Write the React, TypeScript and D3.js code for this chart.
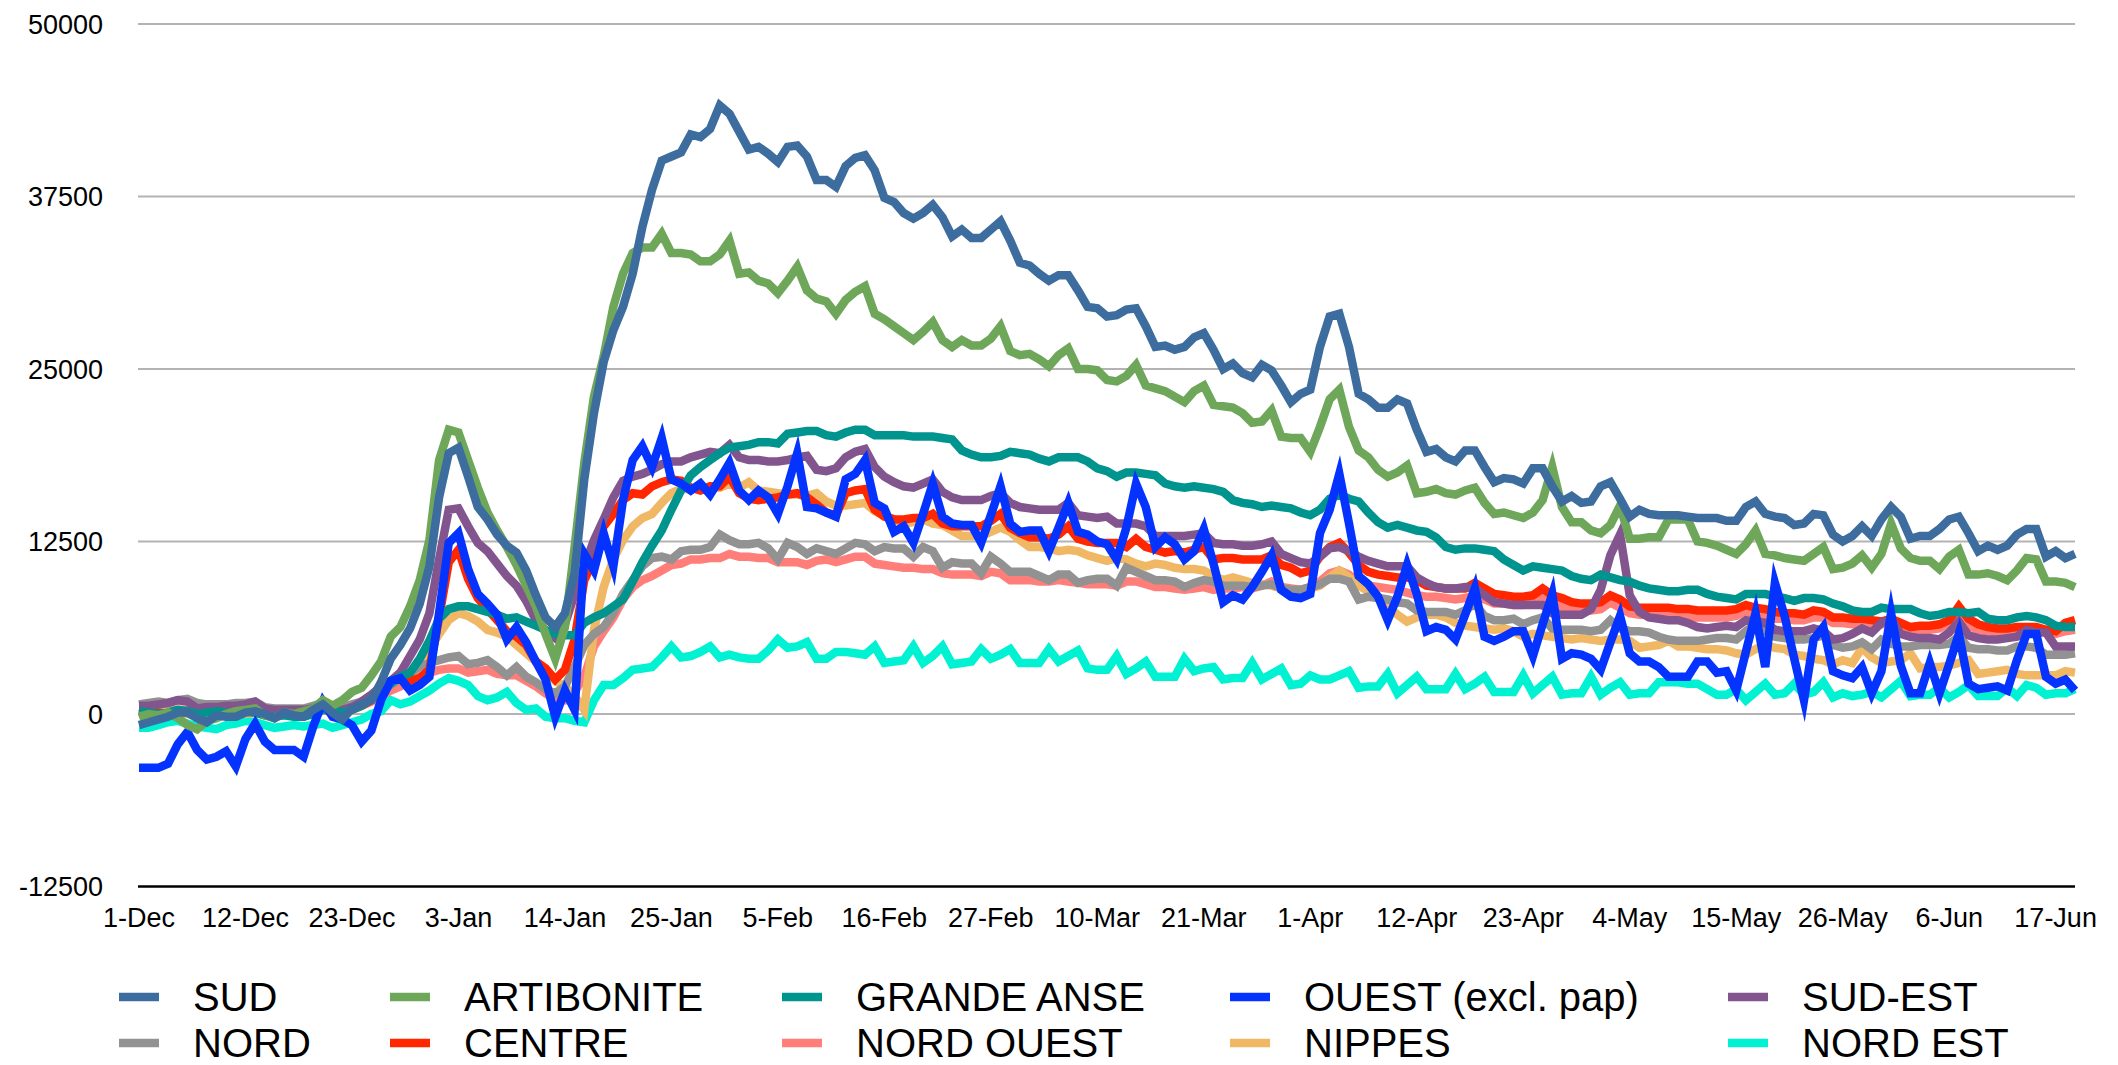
import React, { useEffect } from "react";
import * as d3 from "d3";

// values below are in thousands of cases, one per day from 1-Dec to 19-Jun
const UNIT = 1000;
const START_LABEL_STEP = 11;
const X_LABELS = ["1-Dec","12-Dec","23-Dec","3-Jan","14-Jan","25-Jan","5-Feb","16-Feb","27-Feb","10-Mar","21-Mar","1-Apr","12-Apr","23-Apr","4-May","15-May","26-May","6-Jun","17-Jun"];
const Y_TICKS = [-12500, 0, 12500, 25000, 37500, 50000];
const Y_TICK_LABELS = ["-12500", "0", "12500", "25000", "37500", "50000"];

const SUD = [
-0.8,-0.6,-0.4,-0.2,0.1,0.1,-0.3,-0.6,-0.1,-0.2,
-0.2,0.1,0.2,0.0,-0.3,0.1,-0.1,-0.2,0.3,0.7,
0.1,-0.4,0.4,0.7,1.0,2.3,4.0,5.0,6.2,8.0,
10.7,15.7,18.9,19.3,17.2,15.0,14.1,13.0,12.2,11.7,
10.4,8.6,7.0,6.3,7.3,10.2,17.0,21.8,25.5,27.8,
29.5,31.9,35.3,38.0,40.1,40.4,40.7,42.0,41.8,42.4,
44.1,43.5,42.2,40.9,41.1,40.6,40.0,41.1,41.2,40.4,
38.7,38.7,38.2,39.7,40.3,40.5,39.4,37.4,37.1,36.3,
35.9,36.3,36.9,36.0,34.6,35.1,34.5,34.5,35.1,35.7,
34.3,32.7,32.5,31.9,31.4,31.8,31.8,30.7,29.5,29.4,
28.8,28.9,29.3,29.4,28.1,26.6,26.7,26.4,26.6,27.3,
27.6,26.4,25.0,25.4,24.7,24.4,25.3,24.9,23.8,22.6,
23.2,23.5,26.6,28.8,29.0,26.6,23.2,22.8,22.2,22.2,
22.8,22.5,20.6,19.0,19.2,18.6,18.3,19.1,19.1,17.9,
16.8,17.1,17.0,16.7,17.8,17.8,16.5,15.4,15.8,15.3,
15.4,16.5,16.8,15.6,14.3,14.8,14.5,14.4,14.4,14.4,
14.3,14.2,14.2,14.2,14.0,14.0,15.0,15.4,14.5,14.3,
14.2,13.7,13.8,14.5,14.4,13.0,12.5,12.9,13.6,12.9,
14.1,15.0,14.3,12.7,12.9,12.9,13.4,14.1,14.3,13.1,
11.8,12.2,11.9,12.2,13.0,13.4,13.4,11.4,11.8,11.3,
11.6];

const ARTIBONITE = [
-0.2,0.0,-0.1,0.1,-0.3,-0.8,-1.1,-0.5,-0.3,0.0,
0.2,0.3,0.4,-0.1,-0.3,0.1,0.0,0.2,0.4,1.0,
0.6,1.0,1.6,1.9,2.8,3.8,5.6,6.3,7.8,9.7,
12.6,18.4,20.6,20.4,18.4,16.4,14.6,13.3,12.1,10.8,
9.3,7.8,5.8,4.0,6.3,12.1,18.2,23.0,25.9,29.5,
31.9,33.4,33.8,33.8,34.8,33.4,33.4,33.3,32.8,32.8,
33.3,34.3,31.9,32.0,31.4,31.2,30.5,31.4,32.4,30.7,
30.1,29.9,29.0,30.0,30.6,31.0,29.0,28.6,28.1,27.6,
27.1,27.7,28.4,27.1,26.6,27.1,26.7,26.7,27.2,28.1,
26.3,26.0,26.1,25.7,25.2,26.0,26.5,25.0,25.0,24.9,
24.2,24.1,24.5,25.3,23.8,23.6,23.4,23.0,22.6,23.4,
23.8,22.4,22.3,22.2,21.8,21.1,21.2,22.0,20.1,20.0,
20.0,19.0,20.8,22.8,23.5,20.8,19.1,18.6,17.7,17.2,
17.5,18.0,16.0,16.1,16.3,16.0,15.9,16.2,16.4,15.3,
14.5,14.6,14.4,14.2,14.6,15.5,17.9,15.0,13.9,13.9,
13.3,13.1,13.7,15.1,12.7,12.7,12.8,12.8,14.1,14.1,
14.1,12.5,12.4,12.2,11.9,11.6,12.3,13.3,11.6,11.5,
11.3,11.2,11.1,11.6,12.1,10.5,10.6,10.9,11.5,10.6,
11.6,13.8,12.0,11.3,11.1,11.1,10.5,11.4,11.9,10.1,
10.1,10.2,10.0,9.7,10.4,11.3,11.2,9.6,9.6,9.5,
9.2];

const GRANDE_ANSE = [
0.2,0.1,0.0,0.1,0.3,0.2,0.0,0.1,0.2,0.1,
0.0,0.2,0.1,-0.1,-0.2,-0.1,-0.2,-0.2,0.0,0.3,
0.2,0.1,0.3,0.6,1.1,1.6,2.2,2.7,3.0,4.0,
5.3,6.9,7.6,7.8,7.8,7.6,7.4,7.2,6.9,7.0,
6.7,6.4,6.1,5.8,5.7,5.7,6.6,7.0,7.3,7.8,
8.3,9.6,11.0,12.2,13.3,14.8,16.2,17.3,17.9,18.4,
18.9,19.3,19.4,19.5,19.7,19.7,19.6,20.3,20.4,20.5,
20.5,20.2,20.1,20.4,20.6,20.6,20.2,20.2,20.2,20.2,
20.1,20.1,20.1,20.0,19.9,19.1,18.8,18.6,18.6,18.7,
19.0,18.9,18.8,18.5,18.3,18.6,18.6,18.6,18.3,17.8,
17.6,17.2,17.5,17.5,17.4,17.3,16.7,16.5,16.4,16.5,
16.4,16.3,16.1,15.5,15.3,15.2,15.0,15.1,15.0,14.9,
14.6,14.4,14.8,15.6,15.9,15.6,15.4,14.6,13.9,13.5,
13.7,13.5,13.3,13.2,12.8,12.1,11.9,12.0,12.0,11.9,
11.8,11.2,10.8,10.4,10.7,10.6,10.5,10.4,10.0,9.8,
9.7,10.1,9.9,9.7,9.6,9.3,9.1,9.0,8.9,8.9,
9.0,9.0,8.7,8.5,8.4,8.3,8.7,8.7,8.7,8.5,
8.4,8.2,8.4,8.4,8.3,8.0,7.8,7.5,7.4,7.4,
7.7,7.6,7.6,7.6,7.3,7.1,7.2,7.4,7.4,7.3,
7.4,6.9,6.8,6.8,7.0,7.1,7.0,6.8,6.4,6.3,
6.3];

const OUEST = [
-3.9,-3.9,-3.9,-3.6,-2.2,-1.3,-2.6,-3.3,-3.1,-2.7,
-3.8,-1.8,-0.7,-2.0,-2.6,-2.6,-2.6,-3.1,-0.9,0.9,
-0.2,-0.4,-0.8,-2.0,-1.2,1.0,2.4,2.6,1.7,2.1,
2.7,7.3,12.4,13.1,10.5,8.7,8.0,7.2,5.4,6.3,
5.2,3.8,2.5,-0.2,1.7,0.3,11.6,10.4,13.1,10.7,
15.5,18.4,19.4,17.9,20.0,17.0,16.7,16.2,16.7,15.9,
17.0,18.2,16.2,15.5,16.2,15.7,14.5,16.5,18.9,15.0,
14.9,14.6,14.3,17.0,17.4,18.4,15.3,14.9,13.2,13.6,
12.4,14.5,16.7,14.3,13.8,13.7,13.7,12.4,14.4,16.5,
13.8,13.2,13.3,13.3,11.8,13.5,15.3,13.2,13.0,12.5,
12.3,11.2,13.5,16.7,15.0,12.1,12.8,12.3,11.2,11.8,
13.4,10.9,8.1,8.6,8.3,9.2,10.3,11.5,9.0,8.5,
8.4,8.7,13.1,14.8,17.4,13.8,10.0,9.4,8.5,6.8,
8.5,10.8,8.7,6.0,6.3,6.1,5.4,7.2,9.1,5.6,
5.3,5.6,6.0,6.0,4.2,6.5,8.7,4.0,4.4,4.3,
4.0,3.2,5.2,7.1,4.4,3.8,3.8,3.4,2.7,2.7,
2.7,3.8,3.8,3.0,3.1,1.7,4.5,7.3,3.4,9.5,
7.1,4.0,1.0,5.4,6.3,3.1,2.8,2.6,3.4,1.5,
3.1,7.3,3.5,1.5,1.5,3.7,1.5,3.6,5.8,2.2,
1.8,1.9,2.0,1.7,3.9,5.8,5.8,2.7,2.2,2.5,
1.7];

const SUD_EST = [
0.6,0.6,0.7,0.8,1.0,0.9,0.4,0.5,0.5,0.6,
0.6,0.7,0.9,0.4,0.3,0.3,0.3,0.3,0.4,0.6,
0.3,0.3,0.5,0.9,1.4,2.0,2.4,3.0,4.2,5.4,
7.3,11.2,14.8,14.9,13.6,12.4,11.8,10.9,10.0,9.3,
8.2,6.8,6.0,5.5,6.5,8.7,10.7,12.6,14.1,15.7,
16.9,17.2,17.4,17.7,18.1,18.3,18.3,18.6,18.8,19.0,
18.9,19.5,18.6,18.4,18.4,18.3,18.3,18.4,18.6,18.7,
17.7,17.6,17.8,18.6,19.0,19.2,17.9,17.2,16.8,16.5,
16.4,16.7,17.0,16.1,15.7,15.5,15.5,15.5,15.8,16.0,
15.3,15.0,14.9,14.8,14.8,14.8,15.3,14.4,14.3,14.2,
14.3,13.8,13.8,13.8,13.6,12.9,12.9,12.9,12.9,13.0,
13.1,12.4,12.3,12.3,12.2,12.2,12.3,12.5,11.6,11.3,
11.0,10.9,11.4,12.0,12.1,11.8,11.4,11.1,10.9,10.7,
10.7,10.7,9.9,9.5,9.2,9.1,9.1,9.2,9.1,8.6,
8.1,8.0,7.9,7.9,7.9,7.9,7.3,7.2,7.2,7.2,
7.6,9.0,11.5,13.0,8.6,7.4,7.0,6.9,6.8,6.8,
6.6,6.3,6.2,6.3,6.4,6.3,6.8,6.7,6.6,6.1,
6.0,6.0,6.0,6.2,6.0,5.4,5.5,5.8,6.2,5.9,
6.6,6.9,5.8,5.6,5.5,5.5,5.4,5.9,6.7,5.7,
5.5,5.4,5.4,5.5,5.6,6.1,5.9,5.9,4.9,4.9,
4.9];

const NORD = [
0.7,0.8,0.9,0.8,1.0,1.1,0.8,0.7,0.7,0.7,
0.8,0.8,0.9,0.5,0.4,0.4,0.4,0.4,0.6,0.8,
0.5,0.5,0.7,0.9,1.2,1.6,2.1,2.6,3.0,3.4,
3.7,3.9,4.1,4.2,3.6,3.7,3.9,3.4,2.8,3.4,
2.7,2.3,1.8,1.5,2.0,3.4,5.0,5.8,6.3,7.3,
8.7,9.7,10.7,11.3,11.4,11.2,11.8,11.9,11.9,12.1,
13.0,12.6,12.3,12.3,12.4,12.0,11.2,12.4,12.1,11.6,
12.0,11.8,11.6,12.0,12.4,12.3,11.8,12.1,12.0,12.0,
11.4,12.1,11.8,10.6,11.0,10.9,10.9,10.2,11.4,10.9,
10.3,10.3,10.3,10.0,9.7,10.1,10.1,9.5,9.7,9.8,
9.8,9.3,10.6,10.3,10.0,9.7,9.7,9.6,9.2,9.5,
9.7,9.6,9.3,9.3,9.3,9.2,9.3,9.4,9.1,9.0,
9.0,9.2,9.4,9.8,9.8,9.6,8.3,8.5,8.4,8.3,
8.1,8.0,7.5,7.4,7.4,7.4,7.2,7.5,8.0,7.1,
6.8,6.8,6.9,6.5,6.8,7.0,6.2,6.1,6.1,6.1,
6.0,6.1,6.8,6.2,6.0,6.0,5.9,5.6,5.4,5.3,
5.3,5.3,5.4,5.5,5.5,5.4,6.0,6.5,6.0,5.6,
5.5,5.4,5.4,5.5,5.7,5.0,4.8,4.9,5.2,4.7,
5.4,5.1,4.9,4.9,5.0,5.0,5.0,5.1,5.6,4.8,
4.7,4.7,4.6,4.6,4.9,4.9,4.8,4.3,4.3,4.3,
4.4];

const CENTRE = [
0.0,0.1,0.1,0.0,0.2,0.1,0.0,0.1,0.1,0.0,
0.1,0.2,0.1,0.0,-0.1,0.0,0.0,0.1,0.2,0.4,
0.2,0.1,0.3,0.6,1.0,1.8,2.4,2.6,2.4,2.6,
3.2,7.0,11.0,11.9,9.8,8.4,7.6,6.8,6.0,5.6,
5.0,3.8,3.3,2.5,3.2,5.4,9.7,11.2,13.6,14.5,
15.5,16.0,15.9,16.5,16.8,17.0,16.9,16.4,16.2,16.5,
16.5,17.2,16.0,15.6,15.5,15.6,15.7,15.9,16.0,15.7,
15.2,14.6,14.4,16.0,16.2,16.3,14.8,14.3,14.1,14.1,
14.2,14.2,14.5,13.8,13.6,13.6,13.6,13.6,14.0,14.5,
13.5,13.1,12.8,12.8,12.7,13.0,13.6,12.7,12.5,12.4,
12.4,12.4,12.1,12.7,12.1,11.9,11.7,11.8,11.7,11.9,
12.1,11.2,11.3,11.3,11.2,11.2,11.2,11.5,10.8,10.6,
10.2,10.4,11.4,12.1,12.4,11.7,10.8,10.3,10.1,10.0,
9.9,9.9,9.7,9.3,9.2,9.1,9.1,9.1,9.5,9.1,
8.7,8.6,8.5,8.5,8.6,9.1,8.6,8.4,8.1,8.0,
8.0,8.1,8.6,8.3,7.8,7.7,7.7,7.7,7.7,7.6,
7.6,7.5,7.5,7.5,7.5,7.6,7.9,7.7,7.6,7.4,
7.3,7.3,7.2,7.5,7.4,7.0,7.0,6.9,6.9,6.8,
6.7,6.9,6.6,6.3,6.4,6.4,6.5,6.8,7.8,6.9,
6.5,6.3,6.2,6.2,6.3,6.3,6.3,6.1,6.0,6.6,
6.8];

const NORD_OUEST = [
0.2,0.2,0.3,0.2,0.3,0.3,0.1,0.2,0.2,0.2,
0.3,0.3,0.3,0.1,0.0,0.1,0.1,0.1,0.2,0.4,
0.2,0.2,0.4,0.6,0.9,1.3,1.7,2.0,2.4,2.7,
3.0,3.2,3.3,3.3,3.0,3.1,3.2,2.9,2.8,2.8,
2.4,2.0,1.5,1.1,1.0,1.6,2.7,4.9,6.0,7.0,
8.3,9.2,9.7,10.0,10.4,10.8,10.9,11.2,11.2,11.3,
11.3,11.6,11.4,11.4,11.3,11.3,11.0,11.0,11.0,10.8,
11.1,11.2,11.0,11.2,11.4,11.4,10.9,10.8,10.7,10.6,
10.6,10.5,10.5,10.2,10.1,10.1,10.1,10.0,10.3,10.2,
9.7,9.7,9.7,9.6,9.6,9.7,9.6,9.5,9.4,9.4,
9.4,9.3,9.6,9.6,9.4,9.2,9.2,9.1,9.0,9.1,
9.2,9.0,9.1,9.1,9.2,9.1,9.3,9.6,9.2,9.1,
9.0,9.2,9.6,10.2,10.4,10.1,9.5,9.3,9.2,9.1,
9.0,8.8,8.6,8.5,8.5,8.4,8.3,8.4,8.6,8.3,
8.0,8.0,7.9,7.9,8.0,8.5,7.9,7.8,7.6,7.5,
7.5,7.6,8.1,7.7,7.3,7.2,7.2,7.2,7.1,7.1,
7.0,7.0,7.0,7.0,7.0,7.1,7.5,7.2,7.1,6.9,
6.9,6.8,6.8,7.0,7.0,6.6,6.6,6.5,6.5,6.4,
6.5,6.6,6.2,6.0,6.1,6.1,6.2,6.6,7.0,6.4,
6.1,6.0,5.9,5.9,6.0,6.1,6.1,5.9,5.8,6.0,
6.1];

const NIPPES = [
0.1,0.0,0.1,0.2,0.1,0.0,-0.1,0.0,0.1,0.2,
0.1,0.0,0.1,-0.1,-0.1,0.0,0.1,0.1,0.2,0.3,
0.1,0.2,0.4,0.8,1.2,1.8,2.2,2.6,3.0,3.6,
4.6,5.8,6.8,7.3,7.1,6.7,6.1,5.9,5.6,5.0,
4.4,3.8,3.3,2.4,2.0,1.3,0.3,6.1,9.2,11.2,
12.6,13.6,14.2,14.5,15.3,16.0,16.3,16.3,16.4,16.4,
16.4,16.7,16.4,16.8,16.2,16.1,16.0,15.9,15.9,15.8,
16.0,15.4,15.1,15.1,15.2,15.3,14.7,14.4,14.1,13.8,
13.9,14.1,13.8,13.7,13.3,12.9,12.9,12.9,13.2,13.5,
13.2,12.6,12.1,12.1,12.0,11.8,11.9,11.8,11.5,11.3,
11.1,11.3,11.2,10.9,10.7,10.9,10.8,10.6,10.5,10.5,
10.4,10.0,9.7,9.9,9.7,9.5,9.4,9.3,9.1,9.0,
8.9,9.1,9.3,9.9,10.4,9.9,9.3,8.9,8.4,7.8,
7.2,6.7,7.0,7.2,7.2,7.0,6.6,6.4,6.3,6.2,
6.1,6.2,6.0,5.6,5.8,5.7,5.6,5.5,5.4,5.5,
5.4,5.3,5.4,5.4,5.3,4.8,4.9,5.0,5.3,4.9,
4.9,4.8,4.7,4.7,4.6,4.4,4.3,4.7,5.0,4.8,
4.7,4.3,4.2,4.0,3.9,3.6,3.9,3.7,4.8,4.1,
3.7,3.8,3.9,4.4,3.3,3.4,3.4,3.5,3.7,3.9,
2.9,3.0,3.1,3.2,2.9,2.8,2.8,2.8,2.8,3.1,
3.0];

const NORD_EST = [
-1.0,-1.0,-0.8,-0.6,-0.5,-0.7,-0.9,-1.0,-1.1,-0.8,
-0.7,-0.5,-0.6,-0.8,-1.0,-0.9,-0.8,-0.9,-0.8,-0.7,
-1.0,-0.8,-0.6,-0.4,0.0,0.2,1.0,0.7,0.9,1.3,
1.7,2.2,2.6,2.4,2.1,1.3,1.0,1.2,1.6,0.8,
0.3,0.4,-0.2,-0.3,-0.3,-0.5,-0.6,1.0,2.1,2.1,
2.6,3.2,3.3,3.4,4.1,4.9,4.1,4.2,4.5,4.9,
4.1,4.3,4.1,4.0,4.0,4.6,5.4,4.8,4.9,5.2,
4.0,4.0,4.5,4.5,4.4,4.3,4.9,3.7,3.8,3.9,
4.9,3.7,4.2,4.9,3.6,3.7,3.8,4.7,4.0,4.3,
4.7,3.7,3.7,3.7,4.7,3.8,4.2,4.6,3.3,3.2,
3.2,4.2,2.9,3.3,3.8,2.7,2.7,2.7,4.0,3.1,
3.3,3.4,2.5,2.6,2.6,3.7,2.5,2.9,3.3,2.1,
2.2,2.8,2.5,2.5,2.8,3.1,1.9,2.0,2.0,2.9,
1.5,2.1,2.7,1.8,1.8,1.8,2.9,1.8,2.2,2.7,
1.6,1.6,1.6,2.8,1.5,2.1,2.7,1.4,1.5,1.5,
2.7,1.4,1.9,2.3,1.4,1.5,1.5,2.3,2.3,2.3,
2.2,2.2,1.8,1.4,1.4,1.8,1.0,1.6,2.2,1.4,
1.5,2.2,1.4,1.6,2.3,1.2,1.5,1.3,1.4,1.6,
1.2,1.8,2.4,1.3,1.4,1.4,1.9,1.2,1.6,2.1,
1.3,1.3,1.3,1.9,1.3,2.1,1.9,1.4,1.5,1.5,
1.8];

const SERIES_NAMES = ["SUD","ARTIBONITE","GRANDE ANSE","OUEST (excl. pap)","SUD-EST","NORD","CENTRE","NORD OUEST","NIPPES","NORD EST"];
const SERIES_COLORS = ["#3D6D9E","#6FA75A","#00948F","#0433FF","#83558F","#929292","#FF2600","#FF7E79","#F0B865","#00F2D2"];
const SERIES_VALUES = [SUD, ARTIBONITE, GRANDE_ANSE, OUEST, SUD_EST, NORD, CENTRE, NORD_OUEST, NIPPES, NORD_EST];
// drawing order, bottom to top (indexes into the lists above)
const DRAW_ORDER = [9, 7, 8, 5, 6, 4, 2, 3, 1, 0];

const FONT = "'Liberation Sans', Arial, Helvetica, sans-serif";

export default function App() {
  useEffect(() => {
    document.body.style.margin = "0";
  }, []);

  const n = SUD.length;
  const x = d3.scaleLinear().domain([0, n - 1]).range([139, 2075]);
  const y = d3.scaleLinear().domain([-12500, 50000]).range([886.5, 24]);
  const line = d3
    .line<number>()
    .x((_, i) => x(i))
    .y((v) => y(v * UNIT));

  const legendCols = [119, 390, 782, 1230, 1728];
  const legendRows = [997, 1043];
  const legendTextDx = 74;

  return (
    <svg
      width={2118}
      height={1065}
      style={{ position: "absolute", left: 0, top: 0, background: "#fff" }}
    >
      <rect x={0} y={0} width={2118} height={1065} fill="#fff" />
      {Y_TICKS.map((t, i) =>
        i === 0 ? null : (
          <line key={"g" + t} x1={138} x2={2075} y1={y(t)} y2={y(t)} stroke="#B3B3B3" strokeWidth={2} />
        )
      )}
      <line x1={138} x2={2075} y1={y(Y_TICKS[0])} y2={y(Y_TICKS[0])} stroke="#000" strokeWidth={2.5} />
      {Y_TICKS.map((t, i) => (
        <text key={"yl" + t} x={103} y={y(t) + 9.7} textAnchor="end" fontFamily={FONT} fontSize={27} fill="#000">
          {Y_TICK_LABELS[i]}
        </text>
      ))}
      {X_LABELS.map((lab, i) => (
        <text key={"xl" + lab} x={x(i * START_LABEL_STEP)} y={926.5} textAnchor="middle" fontFamily={FONT} fontSize={27} fill="#000">
          {lab}
        </text>
      ))}
      {DRAW_ORDER.map((si) => (
        <path
          key={"s" + si}
          d={line(SERIES_VALUES[si]) || ""}
          fill="none"
          stroke={SERIES_COLORS[si]}
          strokeWidth={8.5}
          strokeLinejoin="miter"
          strokeMiterlimit={6}
        />
      ))}
      {SERIES_NAMES.map((name, i) => {
        const col = i % 5;
        const row = Math.floor(i / 5);
        const lx = legendCols[col];
        const ly = legendRows[row];
        return (
          <g key={"lg" + i}>
            <line x1={lx} x2={lx + 40} y1={ly} y2={ly} stroke={SERIES_COLORS[i]} strokeWidth={8.5} />
            <text x={lx + legendTextDx} y={ly + 14} fontFamily={FONT} fontSize={40} fill="#000">
              {name}
            </text>
          </g>
        );
      })}
    </svg>
  );
}
